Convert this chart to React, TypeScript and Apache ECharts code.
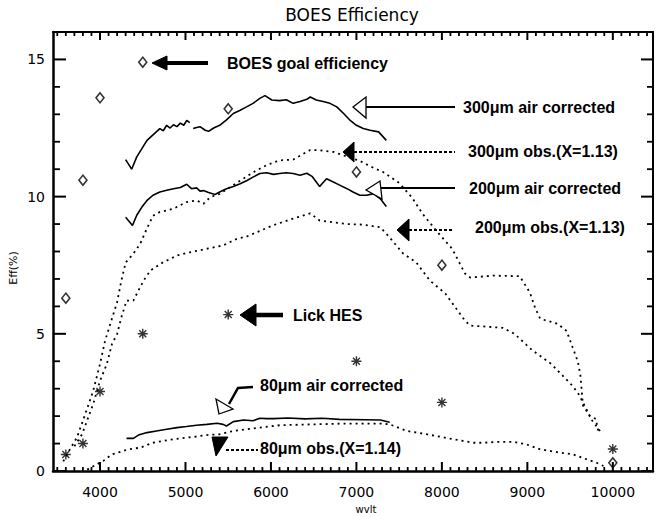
import { useEffect, useRef } from 'react';
import * as echarts from 'echarts';

// ---- tick labels / tick positions ----
const xMajorTicks = [4000, 5000, 6000, 7000, 8000, 9000, 10000];
const yMajorTicks = [0, 5, 10, 15];
const xMinorTicks: number[] = [];
for (let v = 3500; v <= 10400; v += 100) if (v % 1000 !== 0) xMinorTicks.push(v);
const yMinorTicks: number[] = [];
for (let v = 1; v <= 15; v++) if (v % 5 !== 0) yMinorTicks.push(v);

// ---- point data ----
const pointWave = [3600, 3800, 4000, 4500, 5500, 7000, 8000, 10000];
const goalEff = [6.3, 10.6, 13.6, 14.9, 13.2, 10.9, 7.5, 0.3];
const lickEff = [0.6, 1.0, 2.9, 5.0, 5.7, 4.0, 2.5, 0.8];

// ---- curves: [wavelength, efficiency] ----
const air300a = [[4300, 11.35], [4370, 11.0], [4430, 11.45], [4490, 11.75], [4550, 12.05], [4620, 12.25], [4700, 12.48], [4740, 12.4], [4780, 12.6], [4820, 12.5], [4860, 12.62], [4900, 12.55], [4940, 12.68], [4980, 12.6], [5015, 12.78], [5050, 12.7]];
const air300b = [[5090, 12.48], [5130, 12.52], [5170, 12.55], [5230, 12.42], [5270, 12.38], [5330, 12.5], [5400, 12.6], [5480, 12.8], [5560, 13.03], [5640, 13.15], [5720, 13.28], [5790, 13.4], [5870, 13.58], [5930, 13.68], [6010, 13.52], [6100, 13.5], [6180, 13.53], [6260, 13.4], [6340, 13.47], [6420, 13.55], [6460, 13.63], [6530, 13.52], [6610, 13.47], [6690, 13.4], [6770, 13.27], [6850, 13.03], [6920, 12.8], [7000, 12.6], [7080, 12.48], [7160, 12.42], [7260, 12.36], [7350, 12.05]];
const air200 = [[4300, 9.25], [4380, 8.95], [4430, 9.32], [4490, 9.62], [4550, 9.86], [4620, 10.05], [4700, 10.17], [4780, 10.23], [4860, 10.29], [4940, 10.33], [5015, 10.45], [5070, 10.29], [5130, 10.32], [5170, 10.2], [5210, 10.22], [5270, 10.15], [5345, 10.08], [5400, 10.17], [5480, 10.29], [5560, 10.37], [5640, 10.47], [5720, 10.59], [5790, 10.71], [5870, 10.84], [5950, 10.87], [6030, 10.81], [6100, 10.84], [6180, 10.87], [6260, 10.84], [6340, 10.78], [6420, 10.85], [6480, 10.74], [6570, 10.37], [6650, 10.65], [6730, 10.53], [6810, 10.41], [6890, 10.29], [6960, 10.17], [7040, 10.05], [7120, 10.05], [7200, 10.11], [7280, 9.92], [7350, 9.64]];
const air80 = [[4310, 1.19], [4390, 1.19], [4450, 1.31], [4550, 1.4], [4660, 1.46], [4780, 1.52], [4900, 1.58], [5010, 1.62], [5130, 1.67], [5250, 1.7], [5370, 1.74], [5440, 1.7], [5480, 1.64], [5560, 1.8], [5680, 1.86], [5790, 1.83], [5870, 1.92], [5950, 1.91], [6030, 1.91], [6200, 1.93], [6400, 1.9], [6600, 1.92], [6800, 1.88], [7100, 1.87], [7280, 1.86], [7390, 1.78]];
const obs300 = [[3570, 0.35], [3650, 0.8], [3730, 1.22], [3840, 2.19], [3920, 2.92], [4000, 3.9], [4060, 4.75], [4120, 5.36], [4200, 6.15], [4250, 6.94], [4300, 7.6], [4390, 7.92], [4470, 8.28], [4550, 8.85], [4620, 9.3], [4700, 9.44], [4860, 9.56], [5010, 9.8], [5130, 9.86], [5210, 9.74], [5290, 9.98], [5400, 10.1], [5600, 10.5], [5800, 10.9], [5950, 11.15], [6100, 11.32], [6260, 11.35], [6460, 11.7], [6570, 11.69], [6730, 11.63], [6850, 11.5], [7040, 11.3], [7200, 11.05], [7310, 10.9], [7500, 10.5], [7650, 9.97], [7770, 9.39], [7950, 8.7], [8120, 8.1], [8270, 7.2], [8330, 7.05], [8600, 7.12], [8910, 7.1], [9030, 6.5], [9090, 5.95], [9150, 5.55], [9350, 5.37], [9460, 5.1], [9530, 4.5], [9590, 4.0], [9620, 3.5], [9650, 2.4], [9730, 2.0], [9800, 1.9], [9830, 1.46]];
const obs200 = [[3700, 0.9], [3790, 1.34], [3920, 2.44], [4000, 3.29], [4080, 3.9], [4140, 4.63], [4200, 4.99], [4250, 5.6], [4310, 6.21], [4390, 6.21], [4450, 6.58], [4510, 6.94], [4590, 7.31], [4740, 7.61], [4900, 7.85], [5050, 7.97], [5250, 8.1], [5440, 8.22], [5600, 8.46], [5720, 8.55], [5870, 8.75], [6020, 8.95], [6260, 9.2], [6460, 9.39], [6570, 9.13], [6730, 9.06], [6890, 9.0], [7080, 8.98], [7280, 8.88], [7370, 8.58], [7545, 7.93], [7700, 7.6], [7860, 6.94], [8040, 6.47], [8270, 5.48], [8330, 5.3], [8710, 5.22], [8850, 5.0], [9050, 4.42], [9280, 3.9], [9530, 3.1], [9600, 2.8], [9700, 2.2], [9760, 1.83], [9850, 1.46]];
const obs80 = [[3850, 0.05], [3960, 0.24], [4040, 0.37], [4140, 0.61], [4180, 0.64], [4330, 0.79], [4470, 0.85], [4620, 1.03], [4780, 1.12], [4940, 1.19], [5090, 1.24], [5250, 1.31], [5400, 1.34], [5560, 1.46], [5720, 1.52], [5870, 1.58], [6110, 1.67], [6490, 1.7], [6890, 1.73], [7280, 1.73], [7390, 1.7], [7590, 1.46], [7820, 1.34], [8130, 1.16], [8370, 1.03], [8490, 1.03], [8640, 1.06], [8840, 1.06], [8990, 0.97], [9150, 0.79], [9380, 0.67], [9530, 0.61], [9690, 0.43], [9810, 0.3], [9890, 0.18]];

const X_MIN = 3450;
const X_MAX = 10470;
const Y_MIN = 0;
const Y_MAX = 16;

const INK = '#000';
const TICK_FONT = 'DejaVu Sans';
const NOTE_FONT = 'bold 16px "Liberation Sans", Arial, sans-serif';

// tick marks: [x, y, length, direction(0 up,1 down,2 right,3 left), thickness]
const tickItems = [
  ...xMajorTicks.map((v) => [v, Y_MIN, 9, 0, 2]),
  ...xMinorTicks.map((v) => [v, Y_MIN, 4, 0, 1.8]),
  ...xMajorTicks.map((v) => [v, Y_MAX, 8, 1, 2]),
  ...xMinorTicks.map((v) => [v, Y_MAX, 4, 1, 1.8]),
  ...yMajorTicks.map((v) => [X_MIN, v, 13, 2, 2]),
  ...yMinorTicks.map((v) => [X_MIN, v, 7, 2, 1.8]),
  ...yMajorTicks.map((v) => [X_MAX, v, 12, 3, 2]),
  ...yMinorTicks.map((v) => [X_MAX, v, 6, 3, 1.8]),
];
const tickSeries = {
  type: 'custom', silent: true, z: 6,
  data: tickItems,
  renderItem: (_p: any, api: any) => {
    const c = api.coord([api.value(0), api.value(1)]);
    const len = api.value(2);
    const dir = api.value(3);
    const w = api.value(4);
    let shape;
    if (dir === 0) shape = { x: c[0] - w / 2, y: c[1] - len, width: w, height: len };
    else if (dir === 1) shape = { x: c[0] - w / 2, y: c[1], width: w, height: len };
    else if (dir === 2) shape = { x: c[0], y: c[1] - w / 2, width: len, height: w };
    else shape = { x: c[0] - len, y: c[1] - w / 2, width: len, height: w };
    return { type: 'rect', shape, style: { fill: INK } };
  },
};

function xAxisDef(position: 'bottom' | 'top', lineW: number, labels: boolean) {
  return {
    type: 'value', position, min: X_MIN, max: X_MAX,
    splitLine: { show: false },
    axisLine: { show: true, onZero: false, lineStyle: { color: INK, width: lineW } },
    axisTick: { show: false },
    axisLabel: labels
      ? { show: true, customValues: xMajorTicks, formatter: (v: number) => String(v), fontFamily: TICK_FONT, fontSize: 14, color: INK, margin: 14 }
      : { show: false },
  };
}
function yAxisDef(position: 'left' | 'right', lineW: number, labels: boolean) {
  return {
    type: 'value', position, min: Y_MIN, max: Y_MAX,
    splitLine: { show: false },
    axisLine: { show: true, onZero: false, lineStyle: { color: INK, width: lineW } },
    axisTick: { show: false },
    axisLabel: labels
      ? { show: true, customValues: yMajorTicks, formatter: (v: number) => String(v), fontFamily: TICK_FONT, fontSize: 14, color: INK, margin: 8 }
      : { show: false },
  };
}

const solid = (data: number[][]) => ({
  type: 'line', data, showSymbol: false, smooth: false, silent: true,
  lineStyle: { color: INK, width: 1.6 },
});
const dotted = (data: number[][]) => ({
  type: 'line', data, showSymbol: false, smooth: false, silent: true,
  lineStyle: { color: INK, width: 1.8, type: [2, 4] },
});

const txt = (text: string, x: number, y: number) => ({
  type: 'text', x, y, z: 100,
  style: { text, font: NOTE_FONT, fill: INK, textAlign: 'left', textVerticalAlign: 'middle' },
});
const poly = (points: number[][], filled: boolean) => ({
  type: 'polygon', z: 100, shape: { points },
  style: filled ? { fill: INK, stroke: INK, lineWidth: 1 } : { fill: '#fff', stroke: INK, lineWidth: 1.3 },
});
const seg = (x1: number, y1: number, x2: number, y2: number, w: number, dash?: number[]) => ({
  type: 'line', z: 100, shape: { x1, y1, x2, y2 },
  style: { stroke: INK, lineWidth: w, lineDash: dash || null },
});

const option = {
  animation: false,
  backgroundColor: '#fff',
  grid: { left: 53, right: 4, top: 32, bottom: 46, containLabel: false },
  xAxis: [xAxisDef('bottom', 2.5, true), xAxisDef('top', 2, false)],
  yAxis: [yAxisDef('left', 2.5, true), yAxisDef('right', 2, false)],
  series: [
    tickSeries,
    solid(air300a), solid(air300b), solid(air200), solid(air80),
    dotted(obs300), dotted(obs200), dotted(obs80),
    {
      type: 'scatter', silent: true, symbol: 'diamond', symbolSize: [8, 10],
      data: pointWave.map((w, i) => [w, goalEff[i]]),
      itemStyle: { color: '#fff', borderColor: INK, borderWidth: 1.6 },
    },
    {
      type: 'scatter', silent: true,
      symbol: 'path://M5,0L5,10M0,5L10,5M1.5,1.5L8.5,8.5M1.5,8.5L8.5,1.5',
      symbolSize: 10,
      data: pointWave.map((w, i) => [w, lickEff[i]]),
      itemStyle: { color: INK, borderColor: INK, borderWidth: 1.4 },
    },
  ],
  graphic: [
    { type: 'text', x: 352, y: 15, z: 100, style: { text: 'BOES Efficiency', font: '17px "DejaVu Sans"', fill: INK, textAlign: 'center', textVerticalAlign: 'middle' } },
    { type: 'text', x: 366, y: 509, z: 100, style: { text: 'wvlt', font: '10px "DejaVu Sans"', fill: INK, textAlign: 'center', textVerticalAlign: 'middle' } },
    { type: 'text', x: 13, y: 268, rotation: Math.PI / 2, z: 100, style: { text: 'Eff(%)', font: '11px "DejaVu Sans"', fill: INK, textAlign: 'center', textVerticalAlign: 'middle' } },

    // BOES goal efficiency
    poly([[152, 63], [167, 56], [167, 70]], true), seg(165, 63, 208, 63, 4),
    txt('BOES goal efficiency', 227, 63),
    // 300um air corrected
    poly([[353, 107], [366, 97], [366, 118]], false), seg(366, 107, 455, 107, 2),
    txt('300μm air corrected', 463, 107),
    // 300um obs
    poly([[343, 152], [354, 142], [354, 162]], true), seg(354, 152, 455, 152, 2, [3, 2]),
    txt('300μm obs.(X=1.13)', 468, 151),
    // 200um air corrected
    poly([[366, 190], [380, 181], [382, 199]], false), seg(381, 188, 455, 188, 2),
    txt('200μm air corrected', 469, 188),
    // 200um obs
    poly([[397, 230], [409, 219], [409, 241]], true), seg(409, 230, 453, 230, 2, [3, 2]),
    txt('200μm obs.(X=1.13)', 475, 227),
    // Lick HES
    poly([[240, 315], [256, 304], [256, 326]], true), seg(254, 315, 283, 315, 4.5),
    txt('Lick HES', 293, 315),
    // 80um air corrected
    { type: 'polyline', z: 100, shape: { points: [[229, 404], [238, 388], [253, 387]] }, style: { stroke: INK, lineWidth: 2.5, fill: null } },
    poly([[216, 399], [219, 414], [233, 409]], false),
    txt('80μm air corrected', 260, 385),
    // 80um obs
    poly([[212, 437], [228, 437], [216, 456]], true), seg(226, 450, 258, 450, 2, [3, 2]),
    txt('80μm obs.(X=1.14)', 260, 448),
  ],
};

export default function App() {
  const ref = useRef<HTMLDivElement>(null);
  useEffect(() => {
    const chart = echarts.init(ref.current!, null, { renderer: 'svg' });
    chart.setOption(option as any);
    return () => chart.dispose();
  }, []);
  return (
    <div
      ref={ref}
      style={{ position: 'fixed', left: 0, top: 0, width: 657, height: 517, background: '#fff' }}
    />
  );
}
